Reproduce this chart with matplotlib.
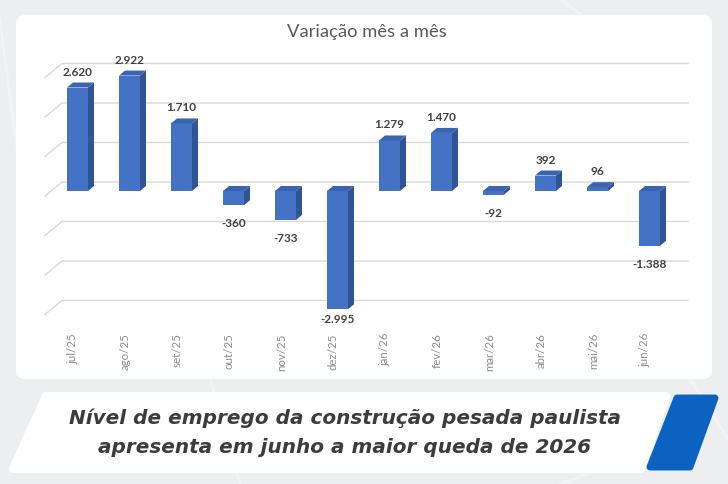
import matplotlib
matplotlib.use('Agg')
import matplotlib.pyplot as plt
from matplotlib.patches import Polygon, FancyBboxPatch, Rectangle

W, H = 728, 485

months = ['jul/25', 'ago/25', 'set/25', 'out/25', 'nov/25', 'dez/25',
          'jan/26', 'fev/26', 'mar/26', 'abr/26', 'mai/26', 'jun/26']
values = [2620, 2922, 1710, -360, -733, -2995, 1279, 1470, -92, 392, 96, -1388]
labels = ['2.620', '2.922', '1.710', '-360', '-733', '-2.995',
          '1.279', '1.470', '-92', '392', '96', '-1.388']
grid_vals = [-3000, -2000, -1000, 0, 1000, 2000, 3000]

title = 'Variação mês a mês'
headline = ['Nível de emprego da construção pesada paulista',
            'apresenta em junho a maior queda de 2026']

fig = plt.figure(figsize=(W / 100, H / 100), dpi=100)
fig.patch.set_facecolor('#eceef0')

# background layer in pixel coordinates
bg = fig.add_axes([0, 0, 1, 1])
bg.set_xlim(0, W)
bg.set_ylim(H, 0)
bg.axis('off')

# faint decorative lines on the backdrop
for xs, ys in [((0, 40), (20, 330)), ((560, 640), (0, 60)), ((690, 728), (380, 440)),
               ((210, 240), (380, 485)), ((600, 560), (470, 485))]:
    bg.plot(xs, ys, color='#f2f3f5', lw=2, zorder=0)

bg.add_patch(FancyBboxPatch((16, 16), 696, 364, boxstyle='round,pad=0,rounding_size=9',
                            fc='white', ec='none', zorder=1))
# headline banner (slanted)
bg.add_patch(Polygon([(46, 397), (666, 397), (641, 470), (13, 470)], closed=True,
                     fc='white', ec='white', lw=6, joinstyle='round', zorder=1))
bg.add_patch(Polygon([(677, 399), (715, 399), (690, 468), (650, 468)], closed=True,
                     fc='#0b62c1', ec='#0b62c1', lw=5, joinstyle='round', zorder=2))
for k, line in enumerate(headline):
    bg.text(345, 418 + k * 30, line, ha='center', va='center', fontsize=14.4,
            fontweight='bold', style='italic', family='DejaVu Sans', color='#3c3c3c', zorder=3)

bg.text(367, 32, title, ha='center', va='center', fontsize=13.2, color='#595959',
        family='Lato', zorder=3)

# chart axes
ax_l, ax_r, ax_t, ax_b = 40, 690, 40, 322
ax = fig.add_axes([ax_l / W, 1 - ax_b / H, (ax_r - ax_l) / W, (ax_b - ax_t) / H])
ax.patch.set_alpha(0)
px_cat = 52.0
x0_px = 77.5
px_unit = 39.5 / 1000
zero_px = 192
ax.set_xlim((ax_l - x0_px) / px_cat, (ax_r - x0_px) / px_cat)
ax.set_ylim((zero_px - ax_b) / px_unit, (zero_px - ax_t) / px_unit)
for s in ax.spines.values():
    s.set_visible(False)

# back-wall gridlines with side-wall diagonal
g_off = 9 / px_unit
gx_start = (62 - x0_px) / px_cat
gx_end = (688 - x0_px) / px_cat
dgx = 17 / px_cat
dgy = 14 / px_unit
for g in grid_vals:
    ax.plot([gx_start - dgx, gx_start, gx_end], [g + g_off - dgy, g + g_off, g + g_off],
            color='#d9d9d9', lw=1, zorder=1, solid_joinstyle='miter')

bw = 21 / px_cat
dx = 6 / px_cat
dy = 5 / px_unit
front_c, side_c, top_c = '#4472c4', '#2f5597', '#3a63b0'
for i, v in enumerate(values):
    xl, xr = i - bw / 2, i + bw / 2
    ax.add_patch(Rectangle((xl, min(0, v)), bw, abs(v), fc=front_c, ec='none', zorder=3))
    ax.add_patch(Polygon([(xr, 0), (xr + dx, dy), (xr + dx, v + dy), (xr, v)],
                         fc=side_c, ec='none', zorder=3))
    ytop = max(v, 0)
    ax.add_patch(Polygon([(xl, ytop), (xl + dx, ytop + dy), (xr + dx, ytop + dy), (xr, ytop)],
                         fc=top_c, ec='none', zorder=3))
    if v >= 0:
        ax.text(i, v + 11 / px_unit, labels[i], ha='center', va='bottom', fontsize=8.5,
                fontweight='bold', color='#404040', family='Lato', zorder=4)
    else:
        ax.text(i, max(v - 12 / px_unit, -3100), labels[i], ha='center', va='top', fontsize=8.5,
                fontweight='bold', color='#404040', family='Lato', zorder=4, clip_on=False)

ax.set_xticks([i - 0.08 for i in range(len(months))])
ax.set_xticklabels(months, rotation=90, fontsize=8.3, color='#8c8c8c', family='Lato', va='top')
ax.tick_params(axis='x', length=0, pad=8)
ax.set_yticks([])

fig.savefig('out.png', dpi=100, facecolor=fig.get_facecolor())
